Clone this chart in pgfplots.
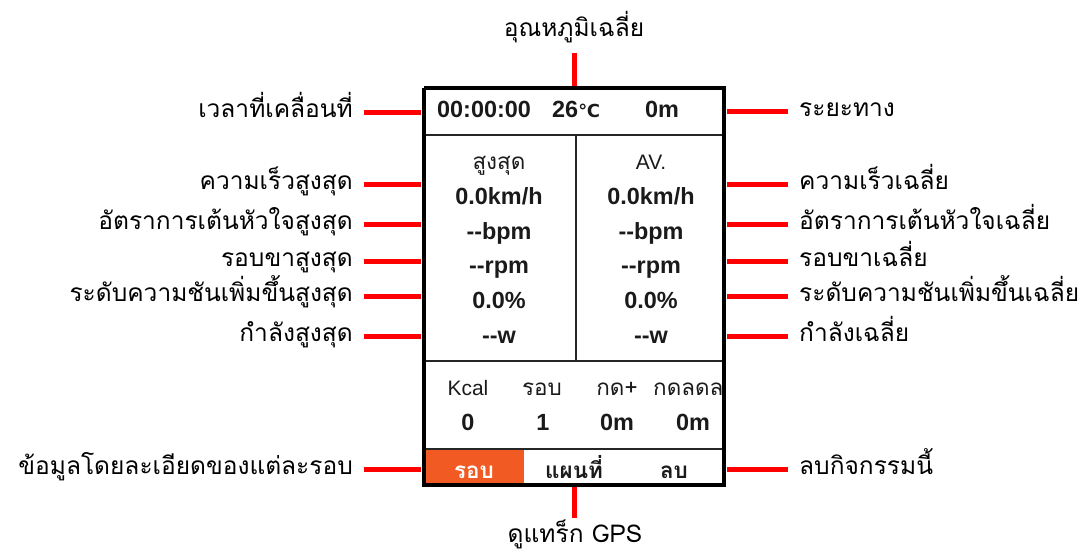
\documentclass[border=0pt]{standalone}
\usepackage{pgfplots}
\pgfplotsset{compat=1.18}
\usepackage{fontspec}
\setmainfont{Liberation Sans}
\newfontfamily\thaifont[Script=Thai]{Loma}
\newfontfamily\dejavu{DejaVu Sans}
\definecolor{orangeC}{HTML}{F15A22}
\definecolor{redC}{HTML}{FF0000}
\definecolor{txt}{HTML}{1A1A1A}
\newcommand{\lab}{\thaifont\fontsize{24.6}{28}\selectfont}
\newcommand{\val}{\fontsize{23.5}{27}\selectfont\bfseries\color{txt}}
\newcommand{\hdr}{\fontsize{21}{24}\selectfont\color{txt}}
\newcommand{\thdr}{\thaifont\fontsize{22.5}{25}\selectfont\color{txt}}
\begin{document}
\begin{tikzpicture}
\begin{axis}[name=ax, width=1081bp, height=551bp, scale only axis,
  xmin=0, xmax=1081, ymin=0, ymax=551, y dir=reverse,
  axis lines=none, ticks=none, clip=false, no markers]
% orange button
\addplot[fill=orangeC, draw=none] coordinates {(424,449) (524,449) (524,484) (424,484)};
% inner separators
\addplot[black!85, line width=2bp] coordinates {(424,135) (724,135)};
\addplot[black!85, line width=2bp] coordinates {(576,135) (576,361)};
\addplot[black!85, line width=2bp] coordinates {(424,361) (724,361)};
\addplot[black!85, line width=2bp] coordinates {(424,449) (724,449)};
% outer border
\addplot[black, line width=3.2bp, line join=miter] coordinates {(424,88) (724,88) (724,485) (424,485) (424,88)};
% red leader lines, left
\addplot[redC, line width=5bp] coordinates {(364,113) (421,113)};
\addplot[redC, line width=5bp] coordinates {(364,184) (421,184)};
\addplot[redC, line width=5bp] coordinates {(364,224) (421,224)};
\addplot[redC, line width=5bp] coordinates {(364,261) (421,261)};
\addplot[redC, line width=5bp] coordinates {(364,296) (421,296)};
\addplot[redC, line width=5bp] coordinates {(364,336) (421,336)};
\addplot[redC, line width=5bp] coordinates {(364,469) (421,469)};
% red leader lines, right
\addplot[redC, line width=5bp] coordinates {(727,112) (788,112)};
\addplot[redC, line width=5bp] coordinates {(727,184) (788,184)};
\addplot[redC, line width=5bp] coordinates {(727,224) (788,224)};
\addplot[redC, line width=5bp] coordinates {(727,261) (788,261)};
\addplot[redC, line width=5bp] coordinates {(727,296) (788,296)};
\addplot[redC, line width=5bp] coordinates {(727,336) (788,336)};
\addplot[redC, line width=5bp] coordinates {(727,469) (788,469)};
% red leader lines, vertical
\addplot[redC, line width=5bp] coordinates {(574,53) (574,86)};
\addplot[redC, line width=5bp] coordinates {(574,487) (574,518)};
% left labels
\node[anchor=base east, inner sep=0] at (axis cs:353,118) {\lab เวลาที่เคลื่อนที่};
\node[anchor=base east, inner sep=0] at (axis cs:353,189) {\lab ความเร็วสูงสุด};
\node[anchor=base east, inner sep=0] at (axis cs:353,229) {\lab อัตราการเต้นหัวใจสูงสุด};
\node[anchor=base east, inner sep=0] at (axis cs:353,266) {\lab รอบขาสูงสุด};
\node[anchor=base east, inner sep=0] at (axis cs:353,301) {\lab ระดับความชันเพิ่มขึ้นสูงสุด};
\node[anchor=base east, inner sep=0] at (axis cs:353,341) {\lab กำลังสูงสุด};
\node[anchor=base east, inner sep=0] at (axis cs:353,474) {\lab ข้อมูลโดยละเอียดของแต่ละรอบ};
% right labels
\node[anchor=base west, inner sep=0] at (axis cs:799,117) {\lab ระยะทาง};
\node[anchor=base west, inner sep=0] at (axis cs:799,189) {\lab ความเร็วเฉลี่ย};
\node[anchor=base west, inner sep=0] at (axis cs:799,229) {\lab อัตราการเต้นหัวใจเฉลี่ย};
\node[anchor=base west, inner sep=0] at (axis cs:799,266) {\lab รอบขาเฉลี่ย};
\node[anchor=base west, inner sep=0] at (axis cs:799,301) {\lab ระดับความชันเพิ่มขึ้นเฉลี่ย};
\node[anchor=base west, inner sep=0] at (axis cs:799,341) {\lab กำลังเฉลี่ย};
\node[anchor=base west, inner sep=0] at (axis cs:799,474) {\lab ลบกิจกรรมนี้};
% top / bottom labels
\node[anchor=base, inner sep=0] at (axis cs:574,37) {\lab อุณหภูมิเฉลี่ย};
\node[anchor=base, inner sep=0] at (axis cs:575,542) {\lab ดูแทร็ก GPS};
% screen: top row
\node[anchor=base west, inner sep=0] at (axis cs:437,118) {\val 00:00:00};
\node[anchor=base west, inner sep=0] at (axis cs:552,118) {\val 26{\dejavu\bfseries\fontsize{18}{20}\selectfont ℃}};
\node[anchor=base, inner sep=0] at (axis cs:662,118) {\val 0m};
% headers
\node[anchor=base, inner sep=0] at (axis cs:499,169) {\thdr สูงสุด};
\node[anchor=base, inner sep=0] at (axis cs:651,169) {\hdr AV.};
% rows
\node[anchor=base, inner sep=0] at (axis cs:499,204) {\val 0.0km/h};
\node[anchor=base, inner sep=0] at (axis cs:651,204) {\val 0.0km/h};
\node[anchor=base, inner sep=0] at (axis cs:499,239) {\val -{}-bpm};
\node[anchor=base, inner sep=0] at (axis cs:651,239) {\val -{}-bpm};
\node[anchor=base, inner sep=0] at (axis cs:499,273) {\val -{}-rpm};
\node[anchor=base, inner sep=0] at (axis cs:651,273) {\val -{}-rpm};
\node[anchor=base, inner sep=0] at (axis cs:499,308) {\val 0.0\%};
\node[anchor=base, inner sep=0] at (axis cs:651,308) {\val 0.0\%};
\node[anchor=base, inner sep=0] at (axis cs:499,343) {\val -{}-w};
\node[anchor=base, inner sep=0] at (axis cs:651,343) {\val -{}-w};
% bottom stats
\node[anchor=base, inner sep=0] at (axis cs:468,395) {\hdr Kcal};
\node[anchor=base, inner sep=0] at (axis cs:542,395) {\thdr รอบ};
\node[anchor=base, inner sep=0] at (axis cs:617,395) {\thdr กด+};
\node[anchor=base west, inner sep=0] at (axis cs:653,395) {\thdr กดลดล};
\node[anchor=base, inner sep=0] at (axis cs:468,430) {\val 0};
\node[anchor=base, inner sep=0] at (axis cs:543,430) {\val 1};
\node[anchor=base, inner sep=0] at (axis cs:617,430) {\val 0m};
\node[anchor=base, inner sep=0] at (axis cs:693,430) {\val 0m};
% bottom bar
\node[anchor=base, inner sep=0] at (axis cs:474,478) {\thdr\bfseries\color{white} รอบ};
\node[anchor=base, inner sep=0] at (axis cs:574,478) {\thdr\bfseries แผนที่};
\node[anchor=base, inner sep=0] at (axis cs:674,478) {\thdr\bfseries ลบ};
\end{axis}
\pgfresetboundingbox
\useasboundingbox (ax.south west) rectangle (ax.north east);
\end{tikzpicture}
\end{document}
